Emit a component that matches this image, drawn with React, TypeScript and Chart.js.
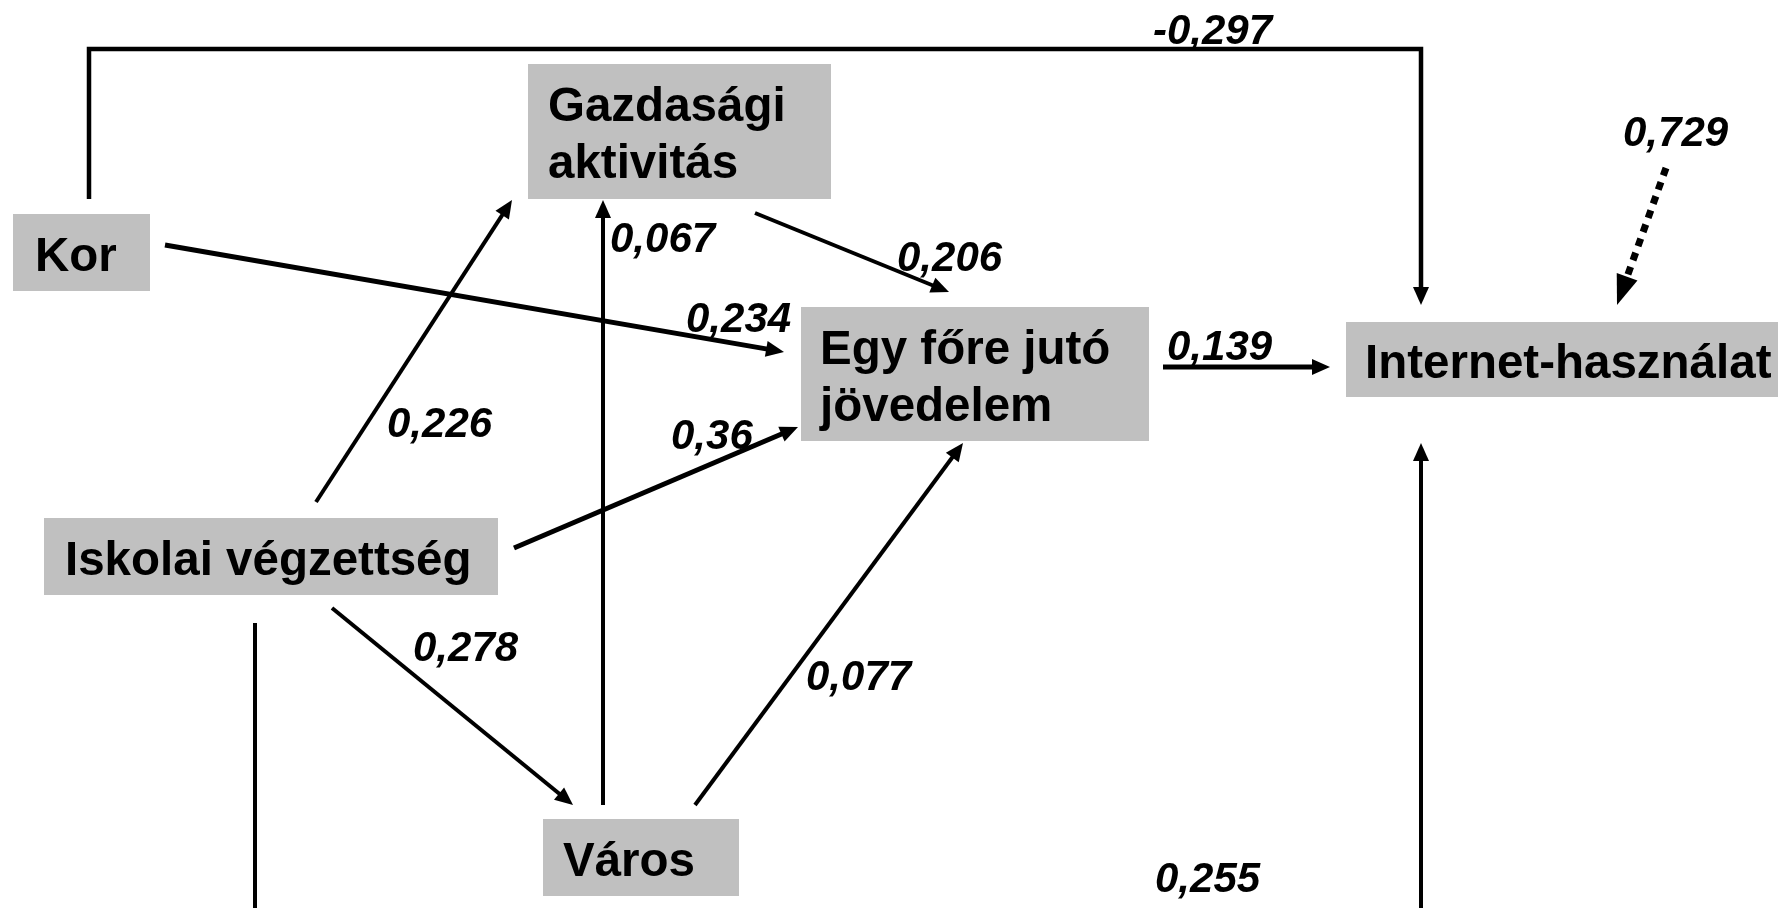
import React, { useEffect, useRef } from "react";
import { Chart, registerables } from "chart.js";

Chart.register(...registerables);

// ---------- data ----------
const nodeNames: string[] = [
  "Kor",
  "Gazdasági aktivitás",
  "Egy főre jutó jövedelem",
  "Internet-használat",
  "Iskolai végzettség",
  "Város",
];
const nodeLines: string[][] = [
  ["Kor"],
  ["Gazdasági", "aktivitás"],
  ["Egy főre jutó", "jövedelem"],
  ["Internet-használat"],
  ["Iskolai végzettség"],
  ["Város"],
];
// -1 = residual (error term)
const pathFrom: number[] = [0, 0, 1, 4, 5, 4, 4, 5, 2, 4, -1];
const pathTo: number[] = [3, 2, 2, 1, 1, 2, 5, 2, 3, 3, 3];
const pathCoefficients: number[] = [
  -0.297, 0.234, 0.206, 0.226, 0.067, 0.36, 0.278, 0.077, 0.139, 0.255, 0.729,
];

// ---------- layout (diagram coordinates) ----------
const nodeBoxes: number[][] = [
  [13, 214, 150, 291],
  [528, 64, 831, 199],
  [801, 307, 1149, 441],
  [1346, 322, 1800, 397],
  [44, 518, 498, 595],
  [543, 819, 739, 896],
];
const nodeTextX: number[] = [35, 548, 820, 1365, 65, 563];

const pathRoutes: number[][][] = [
  [[89, 199], [89, 49], [1421, 49], [1421, 305]],
  [[165, 245], [784, 352]],
  [[755, 213], [949, 292]],
  [[316, 502], [512, 200]],
  [[603, 805], [603, 200]],
  [[514, 548], [798, 427]],
  [[332, 608], [573, 805]],
  [[695, 805], [963, 443]],
  [[1163, 367], [1330, 367]],
  [[255, 623], [255, 1000], [1421, 1000], [1421, 443]],
  [[1666, 168], [1617, 305]],
];
const pathLabelAt: number[][] = [
  [1153, 44],
  [686, 332],
  [897, 271],
  [387, 437],
  [610, 252],
  [671, 449],
  [413, 661],
  [806, 690],
  [1167, 360],
  [1155, 892],
  [1623, 146],
];
const pathWidths: number[] = [4.5, 5, 4, 4, 4, 5, 4, 4, 5, 4, 7];
const pathDashed: boolean[] = [false, false, false, false, false, false, false, false, false, false, true];

const BOX_FILL = "#C0C0C0";
const INK = "#000000";
const NODE_FONT = 'bold 47.5px "Liberation Sans", Arial, sans-serif';
const LABEL_FONT = 'italic bold 42px "Liberation Sans", Arial, sans-serif';

function headSize(i: number): [number, number] {
  return pathDashed[i] ? [30, 11] : [18, 8];
}

function formatCoef(v: number): string {
  return String(v).replace(".", ",");
}

function shortenedRoute(i: number): { x: number; y: number }[] {
  const pts = pathRoutes[i].map((p) => ({ x: p[0], y: p[1] }));
  const n = pts.length;
  const a = pts[n - 2];
  const b = pts[n - 1];
  const dx = b.x - a.x;
  const dy = b.y - a.y;
  const len = Math.hypot(dx, dy);
  const cut = headSize(i)[0] * 0.85;
  pts[n - 1] = { x: b.x - (dx / len) * cut, y: b.y - (dy / len) * cut };
  return pts;
}

const diagramPlugin = {
  id: "pathDiagram",
  beforeDatasetsDraw(chart: any) {
    const { ctx, scales } = chart;
    const sx = scales.x;
    const sy = scales.y;
    ctx.save();
    nodeBoxes.forEach((b, i) => {
      const x0 = sx.getPixelForValue(b[0]);
      const x1 = sx.getPixelForValue(b[2]);
      const y0 = sy.getPixelForValue(b[1]);
      const y1 = sy.getPixelForValue(b[3]);
      ctx.fillStyle = BOX_FILL;
      ctx.fillRect(x0, y0, x1 - x0, y1 - y0);
      const lines = nodeLines[i];
      const cy = (y0 + y1) / 2;
      ctx.fillStyle = INK;
      ctx.font = NODE_FONT;
      ctx.textAlign = "left";
      ctx.textBaseline = "alphabetic";
      lines.forEach((t, k) => {
        const by = cy + (k - (lines.length - 1) / 2) * 57 + 18;
        ctx.fillText(t, sx.getPixelForValue(nodeTextX[i]), by);
      });
    });
    ctx.restore();
  },
  afterDatasetsDraw(chart: any) {
    const { ctx, scales } = chart;
    const sx = scales.x;
    const sy = scales.y;
    ctx.save();
    pathRoutes.forEach((r, i) => {
      const n = r.length;
      const ax = sx.getPixelForValue(r[n - 2][0]);
      const ay = sy.getPixelForValue(r[n - 2][1]);
      const bx = sx.getPixelForValue(r[n - 1][0]);
      const by = sy.getPixelForValue(r[n - 1][1]);
      const ang = Math.atan2(by - ay, bx - ax);
      const [hl, hw] = headSize(i);
      ctx.fillStyle = INK;
      ctx.beginPath();
      ctx.moveTo(bx, by);
      ctx.lineTo(
        bx - hl * Math.cos(ang) + hw * Math.sin(ang),
        by - hl * Math.sin(ang) - hw * Math.cos(ang)
      );
      ctx.lineTo(
        bx - hl * Math.cos(ang) - hw * Math.sin(ang),
        by - hl * Math.sin(ang) + hw * Math.cos(ang)
      );
      ctx.closePath();
      ctx.fill();

      const lp = pathLabelAt[i];
      ctx.font = LABEL_FONT;
      ctx.textAlign = "left";
      ctx.textBaseline = "alphabetic";
      ctx.fillText(formatCoef(pathCoefficients[i]), sx.getPixelForValue(lp[0]), sy.getPixelForValue(lp[1]));
    });
    ctx.restore();
  },
};

export default function App() {
  const ref = useRef<HTMLCanvasElement | null>(null);

  useEffect(() => {
    if (!ref.current) return;
    const datasets = pathRoutes.map((_, i) => ({
      type: "line" as const,
      label: (pathFrom[i] >= 0 ? nodeNames[pathFrom[i]] : "e") + " → " + nodeNames[pathTo[i]],
      data: shortenedRoute(i),
      showLine: true,
      borderColor: INK,
      backgroundColor: INK,
      borderWidth: pathWidths[i],
      borderDash: pathDashed[i] ? [8, 7] : [],
      borderCapStyle: "butt" as const,
      borderJoinStyle: "miter" as const,
      pointRadius: 0,
      pointHoverRadius: 0,
      tension: 0,
      fill: false,
      clip: false as any,
    }));
    const chart = new Chart(ref.current, {
      type: "scatter",
      data: { datasets: datasets as any },
      options: {
        responsive: false,
        animation: false,
        events: [],
        layout: { padding: 0 },
        plugins: { legend: { display: false }, tooltip: { enabled: false } },
        scales: {
          x: { type: "linear", min: 0, max: 1778, display: false },
          y: { type: "linear", min: 0, max: 908, reverse: true, display: false },
        },
      },
      plugins: [diagramPlugin],
    });
    return () => chart.destroy();
  }, []);

  return (
    <div style={{ position: "fixed", left: 0, top: 0, width: 1778, height: 908, background: "#fff" }}>
      <canvas ref={ref} width={1778} height={908} style={{ display: "block" }} />
    </div>
  );
}
